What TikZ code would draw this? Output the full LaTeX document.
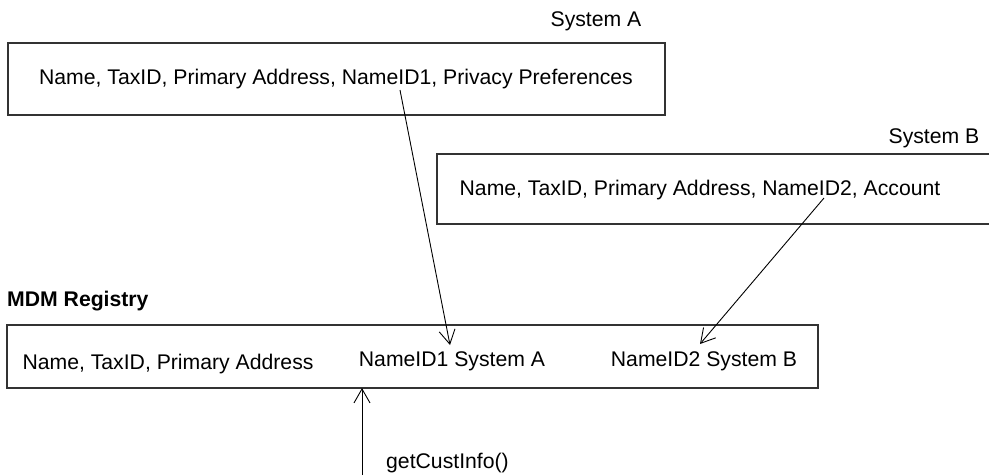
\documentclass[tikz,border=0pt]{standalone}
\usepackage{fontspec}
\setmainfont{Liberation Sans}
\usetikzlibrary{arrows.meta}
\begin{document}
\begin{tikzpicture}[x=1pt,y=-1pt,
  every node/.style={font=\fontsize{21.2}{25}\selectfont, inner sep=0pt},
  sysbox/.style={draw=black!80, line width=1.2pt},
  flow/.style={draw=black, line width=0.9pt, -{Straight Barb[length=14pt,width=16pt,line width=0.9pt]}}]
\useasboundingbox (0,0) rectangle (989,475);

% source system A
\draw[sysbox] (8,43) rectangle (665,115);
\node (tA) at (336,79) {Name, TaxID, Primary Address, NameID1, Privacy Preferences};
\node (lA) at (596,21) {System A};

% source system B (box runs past the right margin)
\begin{scope}
\clip (0,0) rectangle (989,475);
\draw[sysbox] (437,154) rectangle (1000,224);
\end{scope}
\node (tB) at (700,190) {Name, TaxID, Primary Address, NameID2, Account};
\node (lB) at (934,138) {System B};

% registry
\node[anchor=west, font=\fontsize{21.2}{25}\selectfont\bfseries] (lR) at (7,301) {MDM Registry};
\draw[sysbox] (7,325) rectangle (818,388);
\node (r1) at (168,364) {Name, TaxID, Primary Address};
\node (r2) at (452,361) {NameID1 System A};
\node (r3) at (704,361) {NameID2 System B};

% connectors
\coordinate (a1) at (400,90);
\coordinate (a2) at (450,345);
\coordinate (b1) at (824,198);
\coordinate (b2) at (700,344);
\coordinate (c1) at (362,475);
\coordinate (c2) at (362,388);
\draw[flow] (a1) -- (a2);
\draw[flow] (b1) -- (b2);
\draw[flow] (c1) -- (c2);
\node[anchor=west] (call) at (386,463) {getCustInfo()};
\end{tikzpicture}
\end{document}
